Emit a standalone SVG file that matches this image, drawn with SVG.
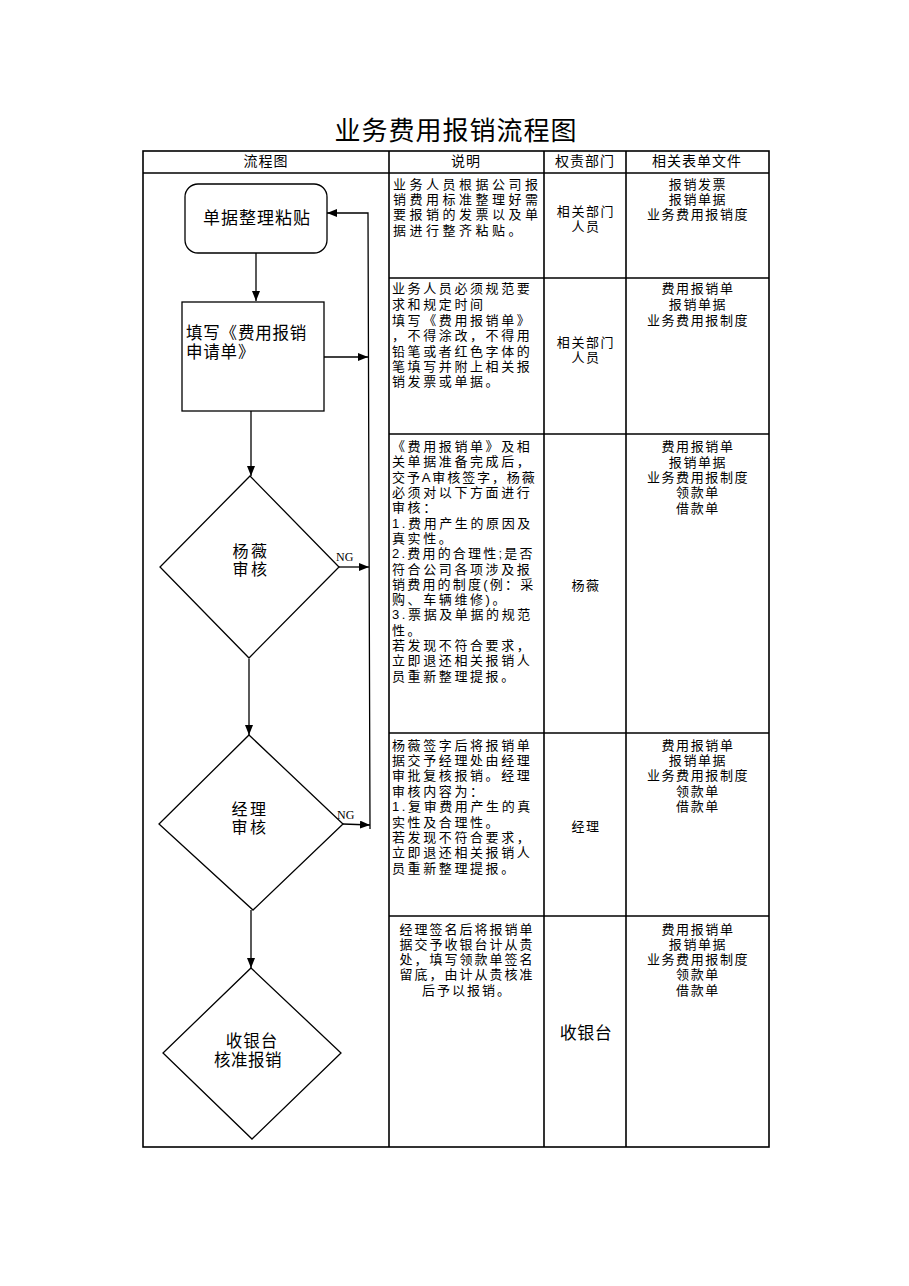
<svg xmlns="http://www.w3.org/2000/svg" width="909" height="1286" viewBox="0 0 909 1286">
<style>
.bg{fill:#fff}
.grid{stroke:#000;stroke-width:1.6;fill:none}
.shape{fill:#fff;stroke:#000;stroke-width:1.3}
.conn{fill:none;stroke:#000;stroke-width:1.3}
text{font-family:"Liberation Sans","Noto Sans CJK SC",sans-serif;fill:#000;dominant-baseline:central}
.title{font-size:26px;text-anchor:middle;letter-spacing:1px}
.hdr{font-size:14px;text-anchor:middle;letter-spacing:1px}
.desc{font-size:13px;letter-spacing:2.6px}
.desc1{font-size:13px;letter-spacing:3.5px}
.descc{font-size:13px;letter-spacing:2px;text-anchor:middle}
.cell{font-size:13px;letter-spacing:1.6px;text-anchor:middle}
.node{font-size:16.5px;text-anchor:middle;letter-spacing:1px}
.node2{font-size:16px;text-anchor:middle;letter-spacing:2.5px}
.ng{font-family:"Liberation Serif",serif;font-size:12px}
</style>
<defs>
<marker id="arr" markerUnits="userSpaceOnUse" markerWidth="11" markerHeight="9" refX="10" refY="4" orient="auto">
<path d="M0,0 L10,4 L0,8 z" fill="#000"/>
</marker>
</defs>
<rect class="bg" x="0" y="0" width="909" height="1286"/>
<text class="title" x="456" y="131">业务费用报销流程图</text>
<g id="table">
<rect class="grid" x="143" y="151" width="626" height="996"/>
<line class="grid" x1="143" y1="173" x2="769" y2="173"/>
<line class="grid" x1="389" y1="151" x2="389" y2="1147"/>
<line class="grid" x1="544" y1="151" x2="544" y2="1147"/>
<line class="grid" x1="626" y1="151" x2="626" y2="1147"/>
<line class="grid" x1="389" y1="278" x2="769" y2="278"/>
<line class="grid" x1="389" y1="434" x2="769" y2="434"/>
<line class="grid" x1="389" y1="733" x2="769" y2="733"/>
<line class="grid" x1="389" y1="916" x2="769" y2="916"/>
<text class="hdr" x="266" y="161">流程图</text>
<text class="hdr" x="466" y="161">说明</text>
<text class="hdr" x="585" y="161">权责部门</text>
<text class="hdr" x="697" y="161">相关表单文件</text>
</g>
<g id="row1-text">
<text class="desc1" x="393" y="184"><tspan x="393" y="184">业务人员根据公司报</tspan><tspan x="393" y="199">销费用标准整理好需</tspan><tspan x="393" y="214">要报销的发票以及单</tspan><tspan x="393" y="230">据进行整齐粘贴。</tspan></text>
<text class="cell" x="586" y="211"><tspan x="586" y="211">相关部门</tspan><tspan x="586" y="226">人员</tspan></text>
<text class="cell" x="698" y="184"><tspan x="698" y="184">报销发票</tspan><tspan x="698" y="199">报销单据</tspan><tspan x="698" y="214">业务费用报销度</tspan></text>
</g>
<g id="row2-text">
<text class="desc" x="392" y="288"><tspan x="392" y="288">业务人员必须规范要</tspan><tspan x="392" y="304">求和规定时间</tspan><tspan x="392" y="320">填写《费用报销单》</tspan><tspan x="392" y="335">，不得涂改，不得用</tspan><tspan x="392" y="351">铅笔或者红色字体的</tspan><tspan x="392" y="366">笔填写并附上相关报</tspan><tspan x="392" y="381">销发票或单据。</tspan></text>
<text class="cell" x="586" y="342"><tspan x="586" y="342">相关部门</tspan><tspan x="586" y="357">人员</tspan></text>
<text class="cell" x="698" y="288"><tspan x="698" y="288">费用报销单</tspan><tspan x="698" y="304">报销单据</tspan><tspan x="698" y="320">业务费用报制度</tspan></text>
</g>
<g id="row3-text">
<text class="desc" x="392" y="446"><tspan x="392" y="446">《费用报销单》及相</tspan><tspan x="392" y="461">关单据准备完成后，</tspan><tspan x="392" y="477" style="letter-spacing:1.9px">交予A审核签字，杨薇</tspan><tspan x="392" y="492">必须对以下方面进行</tspan><tspan x="392" y="507">审核：</tspan><tspan x="392" y="523">1.费用产生的原因及</tspan><tspan x="392" y="538">真实性。</tspan><tspan x="392" y="553" style="letter-spacing:2.2px">2.费用的合理性;是否</tspan><tspan x="392" y="569">符合公司各项涉及报</tspan><tspan x="392" y="584" style="letter-spacing:2.2px">销费用的制度(例：采</tspan><tspan x="392" y="599">购、车辆维修)。</tspan><tspan x="392" y="614">3.票据及单据的规范</tspan><tspan x="392" y="630">性。</tspan><tspan x="392" y="645">若发现不符合要求，</tspan><tspan x="392" y="660">立即退还相关报销人</tspan><tspan x="392" y="676">员重新整理提报。</tspan></text>
<text class="cell" x="586" y="585">杨薇</text>
<text class="cell" x="698" y="446"><tspan x="698" y="446">费用报销单</tspan><tspan x="698" y="462">报销单据</tspan><tspan x="698" y="477">业务费用报制度</tspan><tspan x="698" y="492">领款单</tspan><tspan x="698" y="508">借款单</tspan></text>
</g>
<g id="row4-text">
<text class="desc" x="392" y="745"><tspan x="392" y="745">杨薇签字后将报销单</tspan><tspan x="392" y="760">据交予经理处由经理</tspan><tspan x="392" y="775">审批复核报销。经理</tspan><tspan x="392" y="791">审核内容为：</tspan><tspan x="392" y="806">1.复审费用产生的真</tspan><tspan x="392" y="822">实性及合理性。</tspan><tspan x="392" y="837">若发现不符合要求，</tspan><tspan x="392" y="852">立即退还相关报销人</tspan><tspan x="392" y="868">员重新整理提报。</tspan></text>
<text class="cell" x="586" y="826">经理</text>
<text class="cell" x="698" y="745"><tspan x="698" y="745">费用报销单</tspan><tspan x="698" y="760">报销单据</tspan><tspan x="698" y="775">业务费用报制度</tspan><tspan x="698" y="791">领款单</tspan><tspan x="698" y="806">借款单</tspan></text>
</g>
<g id="row5-text">
<text class="descc" x="467" y="929"><tspan x="467" y="929">经理签名后将报销单</tspan><tspan x="467" y="944">据交予收银台计从贵</tspan><tspan x="467" y="959">处，填写领款单签名</tspan><tspan x="467" y="974">留底，由计从贵核准</tspan><tspan x="467" y="990">后予以报销。</tspan></text>
<text class="node" x="586" y="1033" style="font-size:17px;letter-spacing:0.5px">收银台</text>
<text class="cell" x="698" y="929"><tspan x="698" y="929">费用报销单</tspan><tspan x="698" y="944">报销单据</tspan><tspan x="698" y="959">业务费用报制度</tspan><tspan x="698" y="974">领款单</tspan><tspan x="698" y="990">借款单</tspan></text>
</g>
<g id="connectors">
<line class="conn" x1="256" y1="253" x2="256" y2="301" marker-end="url(#arr)"/>
<line class="conn" x1="251" y1="411" x2="251" y2="476" marker-end="url(#arr)"/>
<line class="conn" x1="249" y1="659" x2="249" y2="735" marker-end="url(#arr)"/>
<line class="conn" x1="251" y1="910" x2="251" y2="968" marker-end="url(#arr)"/>
<line class="conn" x1="324" y1="357" x2="368" y2="357" marker-end="url(#arr)"/>
<line class="conn" x1="339" y1="567" x2="369" y2="567" marker-end="url(#arr)"/>
<line class="conn" x1="343" y1="824" x2="370" y2="825" marker-end="url(#arr)"/>
<polyline class="conn" points="370,829 368,213 327,213" marker-end="url(#arr)"/>
<text class="ng" x="336" y="557">NG</text>
<text class="ng" x="337" y="815">NG</text>
</g>
<g id="node-start">
<rect class="shape" x="185" y="184" width="142" height="69" rx="13"/>
<text class="node" x="257" y="218" style="font-size:17px">单据整理粘贴</text>
</g>
<g id="node-fill">
<rect class="shape" x="182" y="302" width="142" height="109"/>
<text class="node" x="186" y="333" style="text-anchor:start;letter-spacing:0.8px"><tspan x="186" y="333">填写《费用报销</tspan><tspan x="186" y="352">申请单》</tspan></text>
</g>
<g id="node-review1">
<polygon class="shape" points="250,476 339,567 249,658 160,567"/>
<text class="node2" x="251" y="551"><tspan x="251" y="551">杨薇</tspan><tspan x="251" y="569">审核</tspan></text>
</g>
<g id="node-review2">
<polygon class="shape" points="249,735 343,824 253,910 159,824"/>
<text class="node2" x="250" y="809"><tspan x="250" y="809">经理</tspan><tspan x="250" y="827">审核</tspan></text>
</g>
<g id="node-cashier">
<polygon class="shape" points="251,968 341,1053 252,1139 163,1053"/>
<text class="node" x="252" y="1041"><tspan x="252" y="1041">收银台</tspan><tspan x="248" y="1059.5" style="letter-spacing:0.5px">核准报销</tspan></text>
</g>
</svg>
